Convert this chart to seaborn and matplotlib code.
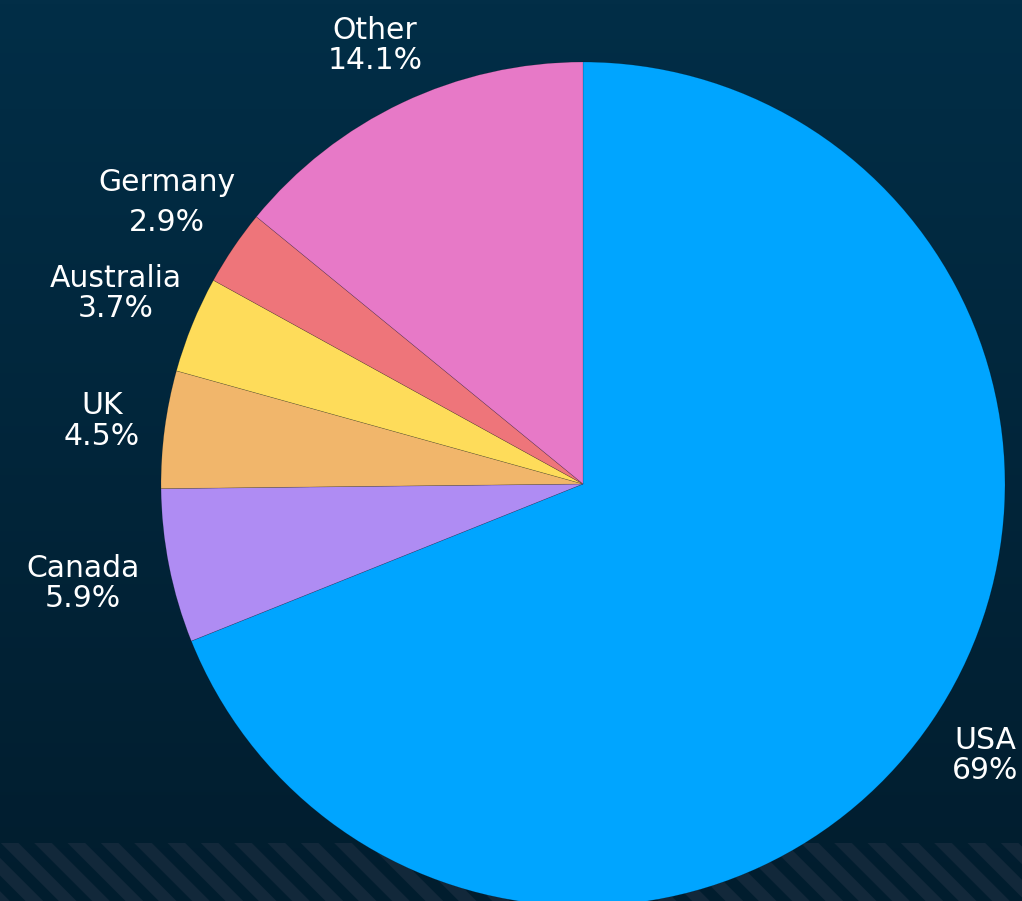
import numpy as np
import matplotlib
matplotlib.use("Agg")
import matplotlib.pyplot as plt
import seaborn as sns
from matplotlib.colors import LinearSegmentedColormap
from matplotlib.patches import Rectangle

countries = ["USA", "Canada", "UK", "Australia", "Germany", "Other"]
shares = [69, 5.9, 4.5, 3.7, 2.9, 14.1]
share_labels = ["69%", "5.9%", "4.5%", "3.7%", "2.9%", "14.1%"]
colors = ["#00A5FF", "#AF8CF3", "#F1B66B", "#FEDC5A", "#EE757A", "#E779C7"]

sns.set_theme(style="dark")
plt.rcParams["font.family"] = ["DejaVu Sans"]
plt.rcParams["hatch.linewidth"] = 9

fig = plt.figure(figsize=(10.22, 9.01), dpi=100)

# background: dark navy gradient with a faint striped band at the bottom
bg = fig.add_axes([0, 0, 1, 1], zorder=0)
grad = np.linspace(0, 1, 256).reshape(-1, 1)
cmap = LinearSegmentedColormap.from_list("bg", ["#022E47", "#011D2E"])
bg.imshow(grad, aspect="auto", cmap=cmap, extent=[0, 1, 0, 1], origin="upper")
bg.add_patch(Rectangle((0, 0), 1, 58 / 901, facecolor="none",
                       edgecolor="#12283A", hatch="\\", lw=0))
bg.set_xlim(0, 1)
bg.set_ylim(0, 1)
bg.axis("off")

# pie
ax = fig.add_axes([161 / 1022, -5 / 901, 844 / 1022, 844 / 901], zorder=1)
labels = [f"{c}\n{s}" for c, s in zip(countries, share_labels)]
wedges, texts = ax.pie(
    shares,
    labels=labels,
    colors=colors,
    startangle=90,
    counterclock=False,
    labeldistance=1.15,
    wedgeprops=dict(linewidth=0.4, edgecolor="#00000040"),
    textprops=dict(color="white", fontsize=21.5),
)
# labels of the thin left slices sit a little further out
push = {"Canada": 1.05, "Australia": 1.04, "Germany": 1.035}
for c, t in zip(countries, texts):
    t.set_ha("center")
    t.set_va("center")
    t.set_linespacing(1.05)
    if c in push:
        x, y = t.get_position()
        t.set_position((x * push[c], y * push[c]))
texts[countries.index("Germany")].set_linespacing(1.45)

ax.set_xlim(-1, 1)
ax.set_ylim(-1, 1)
ax.set_aspect("auto")
ax.axis("off")

fig.savefig("out.png", dpi=100)
